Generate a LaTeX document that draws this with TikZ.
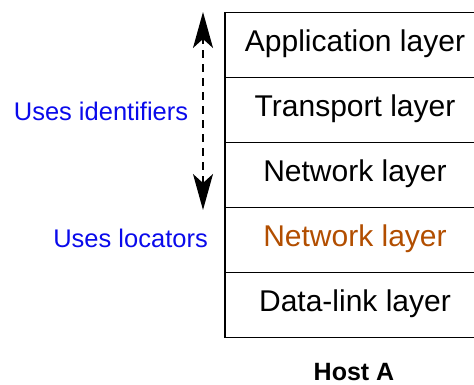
\documentclass[tikz,border=0pt]{standalone}
\usepackage{fontspec}
\setmainfont{Liberation Sans}
\usepackage{xcolor}
\usetikzlibrary{arrows.meta,positioning}
\definecolor{idblue}{RGB}{10,10,235}
\definecolor{locorange}{RGB}{178,78,0}
\tikzset{%
	layer/.style    = {draw, rectangle, line width=1.4pt, minimum width=260pt, minimum height=65pt, inner sep=0pt, outer sep=0pt, text height=20pt, text depth=6pt, font=\fontsize{30}{34}\selectfont},
	note/.style     = {text=idblue, inner sep=0pt, font=\fontsize{25.5}{30}\selectfont}, % Label
	hostname/.style = {inner sep=0pt, font=\bfseries\fontsize{25}{30}\selectfont}, % Caption
	waypoint/.style = {coordinate},
	updown/.style   = {line width=1.4pt, dash pattern=on 8pt off 6pt, {Stealth[length=36pt,width=20pt,inset=9pt]}-{Stealth[length=36pt,width=20pt,inset=9pt]}},
}
\begin{document}
\begin{tikzpicture}[x=1pt,y=1pt,node distance=0pt]
	\useasboundingbox (0,0) rectangle (474,385);
	\node [layer, anchor=north west] (app) at (225,372.5) {Application layer};
	\node [layer] (trans) [below=of app] {Transport layer};
	\node [layer] (net) [below=of trans] {Network layer};
	\node [layer, text=locorange] (netloc) [below=of net] {Network layer};
	\node [layer] (link) [below=of netloc] {Data-link layer};
	\node [hostname] (host) at (354,13) {Host A};
	\node [note] (ids) at (101,274) {Uses identifiers};
	\node [note, anchor=east] (locs) at (208,147) {Uses locators};
	\node [waypoint] (idtop) at (203,373) {};
	\node [waypoint] (idbot) at (203,175) {};

	\draw [updown] (idbot) -- (idtop);
\end{tikzpicture}
\end{document}
